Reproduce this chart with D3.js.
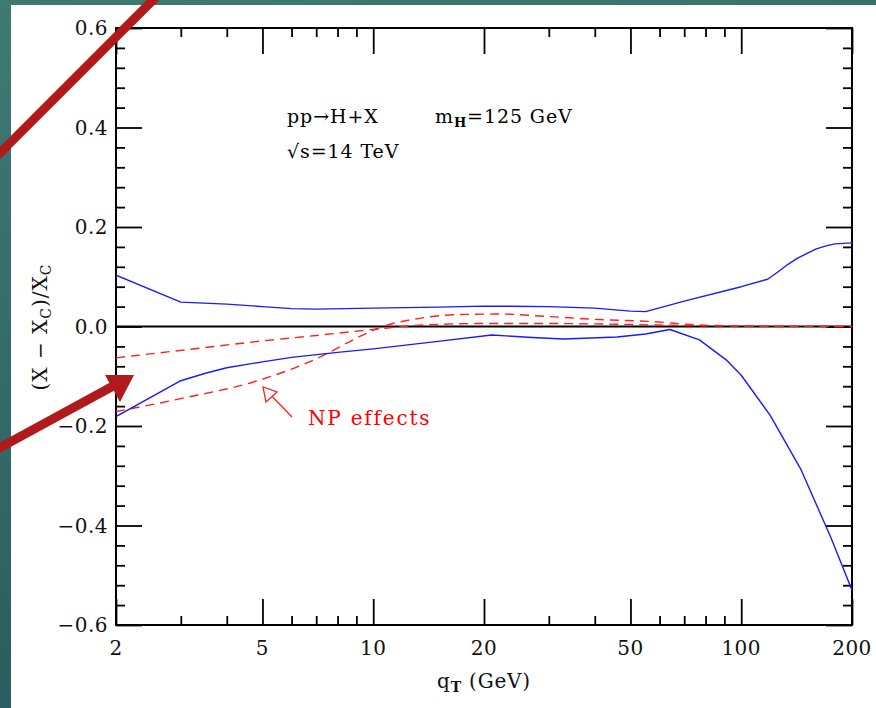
<!DOCTYPE html>
<html><head><meta charset="utf-8">
<script src="https://cdn.jsdelivr.net/npm/d3@7"></script>
<style>html,body{margin:0;padding:0;background:#2d6462;overflow:hidden}</style>
</head><body>
<svg id="c" width="876" height="708"></svg>
<script>
// ---- data ----
const xTickLabels = [2, 5, 10, 20, 50, 100, 200];
const xMinorTicks = [3, 4, 6, 7, 8, 9, 30, 40, 60, 70, 80, 90];
const yTickLabels = [0.6, 0.4, 0.2, 0.0, -0.2, -0.4, -0.6];

const blueUpperQ = [2, 3, 4, 5, 6, 7, 10, 15, 20, 30, 40, 50, 55, 70, 100, 118, 126, 134, 142, 151, 160, 170, 180, 200];
const blueUpperV = [0.103, 0.049, 0.045, 0.040, 0.036, 0.035, 0.037, 0.039, 0.041, 0.040, 0.037, 0.031, 0.030, 0.051, 0.080, 0.095, 0.110, 0.125, 0.137, 0.147, 0.156, 0.162, 0.166, 0.168];

const blueLowerQ = [2, 3, 3.5, 4, 5, 6, 8, 10, 15, 21, 27, 33, 46, 55, 64, 77, 91, 100, 120, 145, 175, 200];
const blueLowerV = [-0.181, -0.109, -0.094, -0.083, -0.071, -0.062, -0.052, -0.045, -0.030, -0.017, -0.022, -0.025, -0.021, -0.015, -0.006, -0.027, -0.067, -0.098, -0.179, -0.286, -0.423, -0.530];

const npAQ = [2, 3, 5, 7, 10, 13, 20, 30, 50, 70, 100, 200];
const npAV = [-0.063, -0.048, -0.029, -0.018, -0.006, 0.002, 0.006, 0.006, 0.004, 0.002, 0.001, 0.0];

const npBQ = [2, 3, 4.9, 7, 9.2, 10.6, 13, 17, 22, 30, 41, 57, 77, 100, 150, 200];
const npBV = [-0.171, -0.145, -0.108, -0.065, -0.020, 0.0, 0.015, 0.024, 0.025, 0.020, 0.014, 0.010, 0.003, 0.001, 0.0, 0.0];

// ---- layout ----
const svg = d3.select("#c");
const L = 116, R = 852, T = 28, B = 625;
const x = d3.scaleLog().domain([2, 200]).range([L, R]);
const y = d3.scaleLinear().domain([-0.6, 0.6]).range([B, T]);
const FONT = "'DejaVu Serif', serif";

// background
const defs = svg.append("defs");
const g0 = defs.append("linearGradient").attr("id", "bg").attr("x1", "0").attr("y1", "0").attr("x2", "0.3").attr("y2", "1");
g0.append("stop").attr("offset", "0").attr("stop-color", "#3d7b72");
g0.append("stop").attr("offset", "1").attr("stop-color", "#2a5a5e");
svg.append("rect").attr("width", 876).attr("height", 708).attr("fill", "url(#bg)");
svg.append("rect").attr("x", 11).attr("y", 5).attr("width", 865).attr("height", 703).attr("fill", "#fff");

const plot = svg.append("g");

// zero line
plot.append("line").attr("x1", L).attr("x2", R).attr("y1", y(0)).attr("y2", y(0))
  .attr("stroke", "#000").attr("stroke-width", 1.8);

// axes via d3 axis generators
const majLen = 26, minLen = 9;
const tickStyle = g => { g.select(".domain").remove(); g.selectAll("line").attr("stroke", "#000").attr("stroke-width", 1.8); };

plot.append("g").attr("transform", `translate(0,${B})`)
  .call(d3.axisTop(x).tickValues(xTickLabels).tickSize(majLen).tickFormat("")).call(tickStyle);
plot.append("g").attr("transform", `translate(0,${B})`)
  .call(d3.axisTop(x).tickValues(xMinorTicks).tickSize(minLen).tickFormat("")).call(tickStyle);
plot.append("g").attr("transform", `translate(0,${T})`)
  .call(d3.axisBottom(x).tickValues(xTickLabels).tickSize(majLen).tickFormat("")).call(tickStyle);
plot.append("g").attr("transform", `translate(0,${T})`)
  .call(d3.axisBottom(x).tickValues(xMinorTicks).tickSize(minLen).tickFormat("")).call(tickStyle);
const yMinor = d3.range(-0.6, 0.6001, 0.04).filter(v => Math.abs(Math.round(v / 0.2) * 0.2 - v) > 1e-6);
plot.append("g").attr("transform", `translate(${L},0)`)
  .call(d3.axisRight(y).tickValues(yTickLabels).tickSize(majLen).tickFormat("")).call(tickStyle);
plot.append("g").attr("transform", `translate(${L},0)`)
  .call(d3.axisRight(y).tickValues(yMinor).tickSize(minLen).tickFormat("")).call(tickStyle);
plot.append("g").attr("transform", `translate(${R},0)`)
  .call(d3.axisLeft(y).tickValues(yTickLabels).tickSize(majLen).tickFormat("")).call(tickStyle);
plot.append("g").attr("transform", `translate(${R},0)`)
  .call(d3.axisLeft(y).tickValues(yMinor).tickSize(minLen).tickFormat("")).call(tickStyle);

// frame
plot.append("rect").attr("x", L).attr("y", T).attr("width", R - L).attr("height", B - T)
  .attr("fill", "none").attr("stroke", "#000").attr("stroke-width", 2);

// tick labels
const fmtY = v => (v < 0 ? "\u2212" : "") + Math.abs(v).toFixed(1);
plot.selectAll(".yl").data(yTickLabels).enter().append("text")
  .attr("x", L - 8).attr("y", d => y(d)).attr("dy", "0.36em")
  .attr("text-anchor", "end").attr("font-family", FONT).attr("font-size", 20)
  .attr("letter-spacing", 0.5).attr("fill", "#111").text(fmtY);
plot.selectAll(".xl").data(xTickLabels).enter().append("text")
  .attr("x", d => x(d)).attr("y", B + 30)
  .attr("text-anchor", "middle").attr("font-family", FONT).attr("font-size", 20)
  .attr("letter-spacing", 0.5).attr("fill", "#111").text(d => d);

// curves
const lineL = d3.line().x(d => x(d[0])).y(d => y(d[1]));
const lineS = d3.line().x(d => x(d[0])).y(d => y(d[1])).curve(d3.curveMonotoneX);
const zip = (a, b) => a.map((q, i) => [q, b[i]]);
const clip = defs.append("clipPath").attr("id", "pc");
clip.append("rect").attr("x", L).attr("y", T).attr("width", R - L).attr("height", B - T);
const curves = plot.append("g").attr("clip-path", "url(#pc)");
curves.append("path").attr("d", lineS(zip(npAQ, npAV))).attr("fill", "none")
  .attr("stroke", "#ff2020").attr("stroke-width", 1.4).attr("stroke-dasharray", "9,6");
curves.append("path").attr("d", lineS(zip(npBQ, npBV))).attr("fill", "none")
  .attr("stroke", "#ff2020").attr("stroke-width", 1.4).attr("stroke-dasharray", "9,6");
curves.append("path").attr("d", lineL(zip(blueUpperQ, blueUpperV))).attr("fill", "none")
  .attr("stroke", "#1a1aff").attr("stroke-width", 1.4).attr("stroke-linejoin", "round");
curves.append("path").attr("d", lineL(zip(blueLowerQ, blueLowerV))).attr("fill", "none")
  .attr("stroke", "#1a1aff").attr("stroke-width", 1.4).attr("stroke-linejoin", "round");

// annotations
const ann = svg.append("g").attr("font-family", FONT).attr("font-size", 19).attr("letter-spacing", 0.9).attr("fill", "#000");
ann.append("text").attr("x", 287).attr("y", 123).text("pp\u2192H+X");
const mh = ann.append("text").attr("x", 435).attr("y", 123);
mh.append("tspan").text("m");
mh.append("tspan").attr("font-size", 13).attr("font-weight", "bold").attr("dy", 4).text("H");
mh.append("tspan").attr("dy", -4).text("=125 GeV");
ann.append("text").attr("x", 287).attr("y", 158).text("\u221As=14 TeV");

svg.append("text").attr("x", 308).attr("y", 425).attr("font-family", FONT).attr("font-size", 20)
  .attr("letter-spacing", 1.8).attr("fill", "#ff0000").text("NP effects");
svg.append("line").attr("x1", 292).attr("y1", 417).attr("x2", 265).attr("y2", 389)
  .attr("stroke", "#ff2020").attr("stroke-width", 1.3);
svg.append("path").attr("d", "M263,387 L266,402 L277,392 Z").attr("fill", "#fff")
  .attr("stroke", "#ff2020").attr("stroke-width", 1.3);

// axis titles
const xt = svg.append("text").attr("x", 484).attr("y", 688).attr("text-anchor", "middle")
  .attr("font-family", FONT).attr("font-size", 20).attr("letter-spacing", 0.8).attr("fill", "#111");
xt.append("tspan").text("q");
xt.append("tspan").attr("font-size", 14).attr("font-weight", "bold").attr("dy", 4).text("T");
xt.append("tspan").attr("dy", -4).text(" (GeV)");

const yt = svg.append("text").attr("transform", "translate(47,327) rotate(-90)").attr("text-anchor", "middle")
  .attr("font-family", FONT).attr("font-size", 20).attr("letter-spacing", 1).attr("fill", "#111");
yt.append("tspan").text("(X \u2212 X");
yt.append("tspan").attr("font-size", 14).attr("dy", 4).text("C");
yt.append("tspan").attr("dy", -4).text(")/X");
yt.append("tspan").attr("font-size", 14).attr("dy", 4).text("C");

// presentation arrows (dark red)
const dr = "#b01a1a";
svg.append("line").attr("x1", -6).attr("y1", 159).attr("x2", 160).attr("y2", -7)
  .attr("stroke", dr).attr("stroke-width", 9);
svg.append("line").attr("x1", -6).attr("y1", 451).attr("x2", 115).attr("y2", 385)
  .attr("stroke", dr).attr("stroke-width", 9);
svg.append("path").attr("d", "M134,375 L105,375 L120,402 Z").attr("fill", dr);
</script>
</body></html>
